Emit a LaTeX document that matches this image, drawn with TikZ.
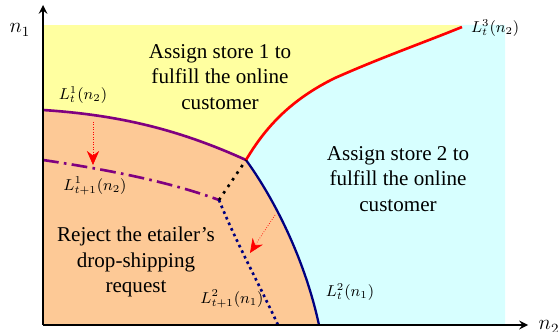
\documentclass[tikz,border=0pt]{standalone}
\usepackage{fontspec}
\setmainfont{Liberation Serif}
\usetikzlibrary{arrows.meta}
\definecolor{zoneA}{RGB}{255,255,160}
\definecolor{zoneB}{RGB}{215,255,255}
\definecolor{zoneR}{RGB}{253,201,150}
\definecolor{lineP}{RGB}{128,0,128}
\definecolor{lineB}{RGB}{0,0,128}
\begin{document}
\begin{tikzpicture}[x=0.02cm,y=-0.02cm,
    axis/.style = {thick,-stealth},
    zonetext/.style = {align=center,font=\fontsize{12}{14.5}\selectfont},
    curvelabel/.style = {inner sep=1pt,font=\fontsize{9}{11}\selectfont},
    moveline/.style = {red,densely dotted,-{Stealth[length=8pt,width=7pt]}}]
    \useasboundingbox (0,0) rectangle (560,331);

    \coordinate (o) at (43,325);
    \coordinate (m) at (246,160);
    \coordinate (k) at (219,200);

    % regions
    \fill[zoneA] (43,25) rectangle (505,325);
    \fill[zoneB] (m) .. controls (265,128) and (290,100) .. (335,78)
        .. controls (380,58) and (420,44) .. (462,25) -- (505,25) -- (505,325)
        -- (319,325) .. controls (305,260) and (275,200) .. (m);
    \fill[zoneR] (43,110) .. controls (120,115) and (180,130) .. (m)
        .. controls (275,200) and (305,260) .. (319,325) -- (o) -- cycle;

    % boundaries
    \draw[lineP,line width=1.5pt] (43,110) .. controls (120,115) and (180,130) .. (m);
    \draw[lineB,line width=1.3pt] (m) .. controls (275,200) and (305,260) .. (319,325);
    \draw[red,line width=1.5pt] (m) .. controls (265,128) and (290,100) .. (335,78)
        .. controls (380,58) and (420,44) .. (462,27);
    \draw[lineP,line width=1.5pt,dash pattern=on 9pt off 3pt on 1.5pt off 3pt]
        (43,160) .. controls (110,170) and (170,182) .. (k);
    \draw[lineB,line width=1.5pt,dash pattern=on 1.5pt off 2pt]
        (k) .. controls (235,240) and (262,290) .. (278,325);
    \draw[line width=1.5pt,dash pattern=on 1.5pt off 3pt] (k) -- (m);

    \draw[moveline] (93,122) -- (93,165);
    \draw[moveline] (275,215) -- (250,253);

    % axes
    \draw[axis,line width=1.2pt] (o) -- (43,5);
    \draw[axis,line width=1.2pt] (o) -- (528,325);
    \node (ny) at (20,30) {\large $n_1$};
    \node (nx) at (549,327) {\large $n_2$};

    % texts
    \node[zonetext] (storeA) at (220,77) {Assign store 1 to\\fulfill the online\\customer};
    \node[zonetext] (storeB) at (398,179) {Assign store 2 to\\fulfill the online\\customer};
    \node[zonetext] (reject) at (136,262) {Reject the etailer's\\drop-shipping\\request};

    \node[curvelabel] (l1) at (83,95) {$L^1_t(n_2)$};
    \node[curvelabel] (l1n) at (95,186) {$L^1_{t+1}(n_2)$};
    \node[curvelabel,anchor=west] (l3) at (469,28) {$L^3_t(n_2)$};
    \node[curvelabel] (l2) at (350,292) {$L^2_t(n_1)$};
    \node[curvelabel] (l2n) at (232,299) {$L^2_{t+1}(n_1)$};
\end{tikzpicture}
\end{document}
